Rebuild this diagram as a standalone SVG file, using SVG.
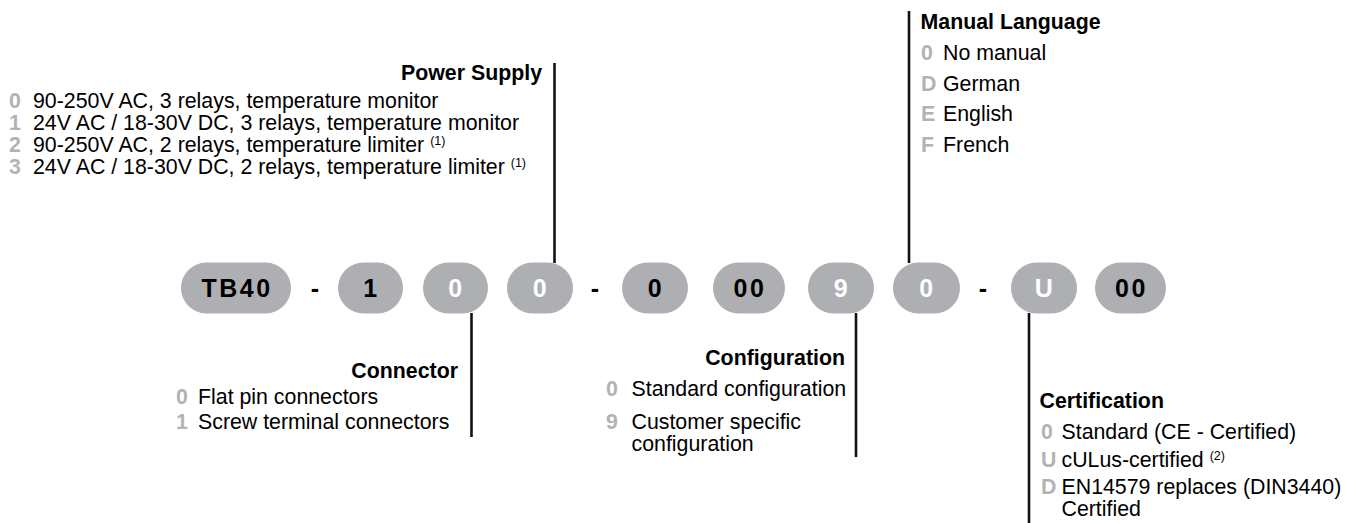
<svg xmlns="http://www.w3.org/2000/svg" width="1356" height="523" viewBox="0 0 1356 523">
<style>
.pill{fill:#aeafb3}
.pt{font-family:"Liberation Sans",Arial,sans-serif;font-weight:700;font-size:25px;letter-spacing:2.5px;text-anchor:middle}
.pk{fill:#000}
.pw{fill:#ffffff}
.dash{font-family:"Liberation Sans",Arial,sans-serif;font-weight:700;font-size:25px;fill:#000;text-anchor:middle}
.t{font-family:"Liberation Sans",Arial,sans-serif;font-size:21.33px;fill:#000}
.h{font-family:"Liberation Sans",Arial,sans-serif;font-size:21.33px;font-weight:700;fill:#000}
.d{font-family:"Liberation Sans",Arial,sans-serif;font-size:21.33px;font-weight:700;fill:#b3b3b5}
.sup{font-size:12.5px}
.ln{stroke:#111;stroke-width:2.6;fill:none}
</style>
<rect width="1356" height="523" fill="#ffffff"/>

<g id="connectors">
<line class="ln" x1="554.5" y1="63" x2="554.5" y2="263"/>
<line class="ln" x1="909" y1="11" x2="909" y2="263"/>
<line class="ln" x1="471.5" y1="313" x2="471.5" y2="437"/>
<line class="ln" x1="856" y1="313" x2="856" y2="457"/>
<line class="ln" x1="1029" y1="313" x2="1029" y2="523"/>
</g>

<g id="pill-tb40"><rect class="pill" x="181" y="262.5" width="110" height="51" rx="25.5"/><text class="pt pk" x="237" y="297">TB40</text></g>
<text class="dash" x="315" y="297">-</text>
<g id="pill-1"><rect class="pill" x="338" y="262.5" width="65" height="51" rx="25.5"/><text class="pt pk" x="371.5" y="297">1</text></g>
<g id="pill-connector"><rect class="pill" x="423" y="262.5" width="65" height="51" rx="25.5"/><text class="pt pw" x="456.5" y="297">0</text></g>
<g id="pill-power"><rect class="pill" x="507" y="262.5" width="66" height="51" rx="25.5"/><text class="pt pw" x="541" y="297">0</text></g>
<text class="dash" x="595" y="297">-</text>
<g id="pill-0"><rect class="pill" x="622" y="262.5" width="66" height="51" rx="25.5"/><text class="pt pk" x="656" y="297">0</text></g>
<g id="pill-00a"><rect class="pill" x="713" y="262.5" width="72" height="51" rx="25.5"/><text class="pt pk" x="750" y="297">00</text></g>
<g id="pill-config"><rect class="pill" x="808" y="262.5" width="66" height="51" rx="25.5"/><text class="pt pw" x="842" y="297">9</text></g>
<g id="pill-manual"><rect class="pill" x="893" y="262.5" width="67" height="51" rx="25.5"/><text class="pt pw" x="927.5" y="297">0</text></g>
<text class="dash" x="983" y="297">-</text>
<g id="pill-cert"><rect class="pill" x="1011" y="262.5" width="66" height="51" rx="25.5"/><text class="pt pw" x="1045" y="297">U</text></g>
<g id="pill-00b"><rect class="pill" x="1095" y="262.5" width="71" height="51" rx="25.5"/><text class="pt pk" x="1131.5" y="297">00</text></g>

<g id="label-power">
<text class="h" x="542" y="80" text-anchor="end">Power Supply</text>
<text class="d" x="9" y="108">0</text><text class="t" x="33" y="108">90-250V AC, 3 relays, temperature monitor</text>
<text class="d" x="9" y="130">1</text><text class="t" x="33" y="130">24V AC / 18-30V DC, 3 relays, temperature monitor</text>
<text class="d" x="9" y="152">2</text><text class="t" x="33" y="152">90-250V AC, 2 relays, temperature limiter <tspan class="sup" dy="-7">(1)</tspan></text>
<text class="d" x="9" y="174">3</text><text class="t" x="33" y="174">24V AC / 18-30V DC, 2 relays, temperature limiter <tspan class="sup" dy="-7">(1)</tspan></text>
</g>

<g id="label-manual">
<text class="h" x="920.5" y="29">Manual Language</text>
<text class="d" x="921" y="59.5">0</text><text class="t" x="943" y="59.5">No manual</text>
<text class="d" x="921" y="90.5">D</text><text class="t" x="943" y="90.5">German</text>
<text class="d" x="921" y="121">E</text><text class="t" x="943" y="121">English</text>
<text class="d" x="921" y="151.5">F</text><text class="t" x="943" y="151.5">French</text>
</g>

<g id="label-connector">
<text class="h" x="458" y="378" text-anchor="end">Connector</text>
<text class="d" x="176" y="404">0</text><text class="t" x="198" y="404">Flat pin connectors</text>
<text class="d" x="176" y="428.5">1</text><text class="t" x="198" y="428.5">Screw terminal connectors</text>
</g>

<g id="label-configuration">
<text class="h" x="845" y="365" text-anchor="end">Configuration</text>
<text class="d" x="606" y="396">0</text><text class="t" x="631.5" y="396">Standard configuration</text>
<text class="d" x="606" y="429">9</text><text class="t" x="631.5" y="429">Customer specific</text>
<text class="t" x="631.5" y="451">configuration</text>
</g>

<g id="label-certification">
<text class="h" x="1039.5" y="408">Certification</text>
<text class="d" x="1041" y="439">0</text><text class="t" x="1061.5" y="439">Standard (CE - Certified)</text>
<text class="d" x="1041" y="467">U</text><text class="t" x="1061.5" y="467">cULus-certified <tspan class="sup" dy="-7">(2)</tspan></text>
<text class="d" x="1041" y="494">D</text><text class="t" x="1061.5" y="494">EN14579 replaces (DIN3440)</text>
<text class="t" x="1061.5" y="516">Certified</text>
</g>
</svg>
